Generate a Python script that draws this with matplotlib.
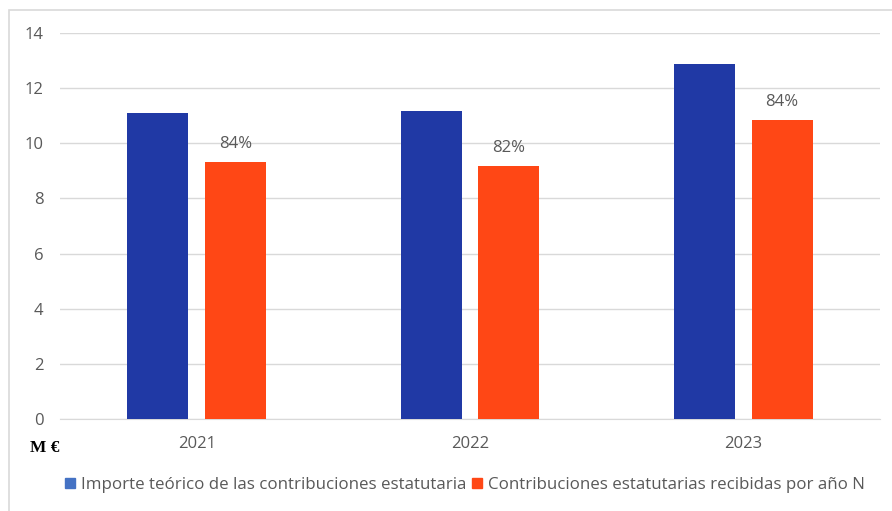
import numpy as np
import matplotlib.pyplot as plt
from matplotlib.patches import Patch, Rectangle

# -----------------------
# Data (M€)
# -----------------------
YEARS = ["2021", "2022", "2023"]
TEORICO = [11.10, 11.17, 12.88]
RECIBIDAS = [9.32, 9.18, 10.85]
PCT_LABELS = ["84%", "82%", "84%"]
SERIES = ["Importe teórico de las contribuciones estatutaria",
          "Contribuciones estatutarias recibidas por año N"]

BLUE = "#2039A5"
BLUE_LEG = "#4472C4"
ORANGE = "#FF4715"
GREY = "#595959"

plt.rcParams["font.family"] = ["Open Sans", "DejaVu Sans"]

fig = plt.figure(figsize=(8.92, 5.11), dpi=100)
W, H = 892, 511
ax = fig.add_axes([60 / W, 1 - 419 / H, 820 / W, (419 - 33) / H])

x = np.arange(len(YEARS))
bw = 0.224
off = 0.142
ax.bar(x - off, TEORICO, bw, color=BLUE, zorder=3)
ax.bar(x + off, RECIBIDAS, bw, color=ORANGE, zorder=3)

for xi, v, lab in zip(x, RECIBIDAS, PCT_LABELS):
    ax.annotate(lab, (xi + off, v), xytext=(0, 7), textcoords="offset points",
                ha="center", va="bottom", fontsize=12, color=GREY)

ax.set_xlim(-0.5, 2.5)
ax.set_ylim(0, 14)
ax.set_yticks(range(0, 15, 2))
ax.set_xticks(x)
ax.set_xticklabels(YEARS)
ax.grid(axis="y", color="#D9D9D9", lw=1, zorder=0)
for s in ["top", "right", "left"]:
    ax.spines[s].set_visible(False)
ax.spines["bottom"].set_color("#D9D9D9")
ax.tick_params(axis="both", length=0, labelsize=12, colors=GREY)
ax.tick_params(axis="x", pad=12)
ax.tick_params(axis="y", pad=12)

fig.text(30 / W, 1 - 448 / H, "M €", fontsize=12.5, fontweight="bold",
         family="Liberation Serif", ha="left", va="center", color="black")

handles = [Patch(color=BLUE_LEG), Patch(color=ORANGE)]
fig.legend(handles, SERIES, loc="center", bbox_to_anchor=(465 / W, 1 - 485 / H),
           ncol=2, frameon=False, fontsize=12.2, handlelength=0.6, handleheight=0.6,
           handletextpad=0.35, columnspacing=0.3, labelcolor=GREY)

# outer chart frame
fig.patches.append(Rectangle((9 / W, -0.1), 1.0, 1 - 10 / H + 0.1,
                             transform=fig.transFigure, fill=False,
                             edgecolor="#D9D9D9", lw=1.2))

fig.savefig("out.png", dpi=100)
